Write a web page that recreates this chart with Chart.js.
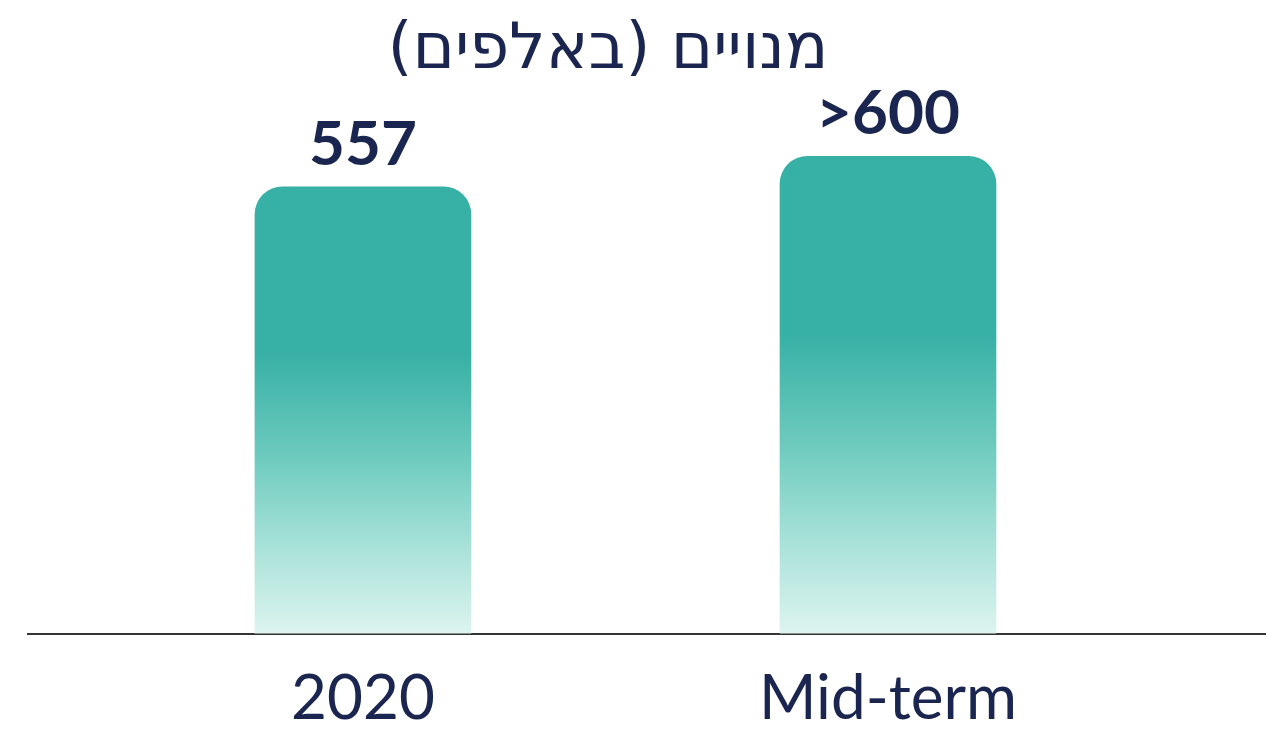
<!DOCTYPE html>
<html>
<head>
<meta charset="utf-8">
<script src="https://cdn.jsdelivr.net/npm/chart.js@4.4.1/dist/chart.umd.min.js"></script>
<style>
  html, body { margin: 0; padding: 0; background: #fff; }
  #wrap { width: 1266px; height: 734px; }
</style>
</head>
<body>
<div id="wrap"><canvas id="chart"></canvas></div>
<script>
// data
const categories = ['2020', 'Mid-term'];
const xPositions = [0, 1];
const subscribers = [557, 595];
const valueLabels = ['557', '>600'];
const chartTitle = 'מנויים (באלפים)\u200F';

const navy = '#1b2650';

// vertical fade per bar, from its top down to the baseline
const barFill = (ctx) => {
    const chart = ctx.chart;
    const area = chart.chartArea;
    if (!area || ctx.parsed == null) return '#37b0a5';
    const yScale = chart.scales.y;
    const top = yScale.getPixelForValue(ctx.parsed.y);
    const bottom = yScale.getPixelForValue(0);
    const g = chart.ctx.createLinearGradient(0, top, 0, bottom);
    g.addColorStop(0, '#37b0a5');
    g.addColorStop(0.37, '#37b0a5');
    g.addColorStop(0.6, '#6ccabd');
    g.addColorStop(0.8, '#a6e1d8');
    g.addColorStop(1, '#ddf4ef');
    return g;
};

const valueLabelPlugin = {
    id: 'valueLabels',
    afterDatasetsDraw(chart) {
        const ctx = chart.ctx;
        const meta = chart.getDatasetMeta(0);
        ctx.save();
        ctx.font = 'bold 62px Lato, sans-serif';
        ctx.fillStyle = navy;
        ctx.textAlign = 'center';
        ctx.textBaseline = 'alphabetic';
        meta.data.forEach((bar, i) => {
            ctx.fillText(valueLabels[i], bar.x, bar.y - 22);
        });
        ctx.restore();
    }
};

// title sits a bit left of the plot centre in the original, so draw it here
const titlePlugin = {
    id: 'sideTitle',
    afterDraw(chart) {
        const ctx = chart.ctx;
        ctx.save();
        ctx.font = '64px "DejaVu Sans", sans-serif';
        ctx.fillStyle = navy;
        ctx.textAlign = 'center';
        ctx.textBaseline = 'alphabetic';
        ctx.fillText(chartTitle, 608, 68);
        ctx.restore();
    }
};

new Chart(document.getElementById('chart'), {
    type: 'bar',
    data: {
        datasets: [{
            data: xPositions.map((x, i) => ({ x: x, y: subscribers[i] })),
            backgroundColor: barFill,
            borderRadius: { topLeft: 28, topRight: 28, bottomLeft: 0, bottomRight: 0 },
            borderSkipped: 'bottom',
            barThickness: 216
        }]
    },
    options: {
        responsive: true,
        maintainAspectRatio: false,
        animation: false,
        layout: { padding: { left: 28, right: 0, top: 72, bottom: -30 } },
        plugins: {
            legend: { display: false },
            tooltip: { enabled: false },
            title: { display: false }
        },
        scales: {
            x: {
                type: 'linear',
                offset: false,
                min: -0.638,
                max: 1.72,
                afterBuildTicks: (axis) => { axis.ticks = xPositions.map(v => ({ value: v })); },
                grid: { display: false, drawTicks: false },
                border: { display: true, color: '#333333', width: 2 },
                ticks: {
                    color: navy,
                    padding: 28,
                    autoSkip: false,
                    maxRotation: 0,
                    font: { family: 'Lato, sans-serif', size: 62 },
                    callback: (value) => categories[xPositions.indexOf(value)] ?? ''
                }
            },
            y: {
                display: false,
                min: 0,
                max: 700
            }
        }
    },
    plugins: [valueLabelPlugin, titlePlugin]
});
</script>
</body>
</html>
